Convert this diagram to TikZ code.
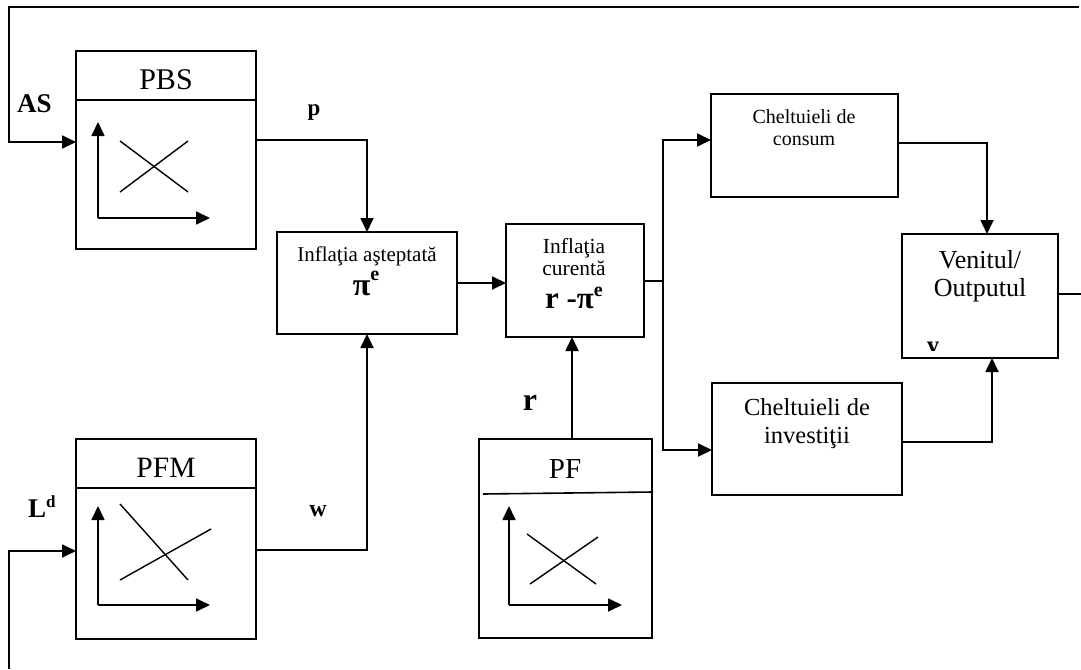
\documentclass[tikz,border=0pt]{standalone}
\usepackage{fontspec}
\setmainfont{Liberation Serif}
\usetikzlibrary{arrows.meta}
\newcommand\setfz[1]{\fontsize{#1}{#1}\selectfont}
\begin{document}
\begin{tikzpicture}[x=1pt,y=-1pt,
  ln/.style={line width=1.8pt},
  arr/.style={ln,-{Triangle[length=14pt,width=13pt]}},
  box/.style={draw,line width=1.8pt,inner sep=0pt,outer sep=0pt,anchor=north west},
  txt/.style={inner sep=0pt,anchor=base},
  axis/.style={line width=1.7pt,-{Triangle[length=14pt,width=13pt]}},
  curve/.style={line width=1.4pt},
]
\useasboundingbox (0,0) rectangle (1081,669);

% ---------- blocks ----------
\node[box,minimum width=180pt,minimum height=198pt] (pbs) at (76,51) {};
\node[box,minimum width=180pt,minimum height=200pt] (pfm) at (76,439) {};
\node[box,minimum width=173pt,minimum height=199pt] (pf) at (479,439) {};
\node[box,minimum width=180pt,minimum height=102pt] (ia) at (277,232) {};
\node[box,minimum width=138pt,minimum height=113pt] (ic) at (506,224) {};
\node[box,minimum width=187pt,minimum height=103pt] (cons) at (711,94) {};
\node[box,minimum width=190pt,minimum height=112pt] (inv) at (712,383) {};
\node[box,minimum width=156pt,minimum height=124pt] (ven) at (902,234) {};

% title bars of the market blocks
\draw[ln] (pbs.west |- 0,100) -- (pbs.east |- 0,100);
\draw[ln] (pfm.west |- 0,488) -- (pfm.east |- 0,488);
\draw[line width=1.6pt] (483,494) -- (653,492);

% small supply/demand charts
\draw[axis] (98,218) -- (98,122);
\draw[axis] (98,218) -- (210,218);
\draw[curve] (120,141) -- (188,192);
\draw[curve] (120,192) -- (188,141);

\draw[axis] (98,605) -- (98,506);
\draw[axis] (98,605) -- (210,605);
\draw[curve] (120,504) -- (188,580);
\draw[curve] (120,580) -- (211,529);

\draw[axis] (509,605) -- (509,506);
\draw[axis] (509,605) -- (622,605);
\draw[curve] (527,534) -- (596,584);
\draw[curve] (530,584) -- (598,537);

% ---------- texts ----------
\node[txt] (tpbs) at (166,89) {\setfz{30}PBS};
\node[txt] (tpfm) at (166,477) {\setfz{29.5}PFM};
\node[txt] (tpf) at (565,478) {\setfz{29}PF};

\node[txt,anchor=base west] (las) at (17,112) {\setfz{27}\bfseries AS};
\node[txt,anchor=base west] (lld) at (28,517) {\setfz{27}\bfseries L\raisebox{10pt}{\setfz{17}d}};
\node[txt] (lp) at (314,115) {\setfz{23}\bfseries p};
\node[txt] (lw) at (318,516) {\setfz{24}\bfseries w};
\node[txt] (lr) at (530,410) {\setfz{32}\bfseries r};

\node[txt] (ia1) at (367,261) {\setfz{21}Inflaţia aşteptată};
\node[txt] (ia2) at (366,295) {\setfz{32}\bfseries π\raisebox{15pt}{\setfz{20}e}};

\node[txt] (ic1) at (574,253) {\setfz{21.5}Inflaţia};
\node[txt] (ic2) at (574,275) {\setfz{21.5}curentă};
\node[txt] (ic3) at (574,308) {\setfz{31}\bfseries r -π\raisebox{12pt}{\setfz{20}e}};

\node[txt] (co1) at (804,123) {\setfz{20}Cheltuieli de};
\node[txt] (co2) at (804,145) {\setfz{20}consum};

\node[txt] (in1) at (807,415) {\setfz{24.5}Cheltuieli de};
\node[txt] (in2) at (807,443) {\setfz{24.5}investiţii};

\node[txt] (ve1) at (980,268) {\setfz{26}Venitul/};
\node[txt] (ve2) at (980,296) {\setfz{26}Outputul};

\begin{scope}
  \clip (903,330) rectangle (1056,350);
  \node[txt] (ly) at (933,353) {\setfz{25}\bfseries y};
\end{scope}

% ---------- connectors ----------
\coordinate (topR) at (1079,7);
\coordinate (topL) at (9,7);
\coordinate (botL) at (9,669);
\coordinate (split) at (663,281);
\coordinate (outR) at (1081,294);

\draw[arr] (topR) -- (topL) |- ([yshift=8pt]pbs.west);
\draw[arr] (botL) |- ([yshift=-12pt]pfm.west);

\draw[arr] ([yshift=10pt]pbs.east) -| (ia.north);
\draw[arr] ([yshift=-11pt]pfm.east) -| (ia.south);
\draw[arr] (ia.east) -- (ic.west |- ia.east);
\draw[arr] ([xshift=6.5pt]pf.north) -- ([xshift=6.5pt]pf.north |- ic.south);

\draw[ln] (ic.east |- split) -- (split);
\draw[arr] (split) |- ([yshift=5.5pt]cons.west);
\draw[arr] (split) |- ([yshift=-11pt]inv.west);

\draw[arr] ([yshift=2.5pt]cons.east) -| ([xshift=7pt]ven.north);
\draw[arr] ([yshift=-3pt]inv.east) -| ([xshift=12pt]ven.south);
\draw[ln] (ven.east |- outR) -- (outR);
\end{tikzpicture}
\end{document}
